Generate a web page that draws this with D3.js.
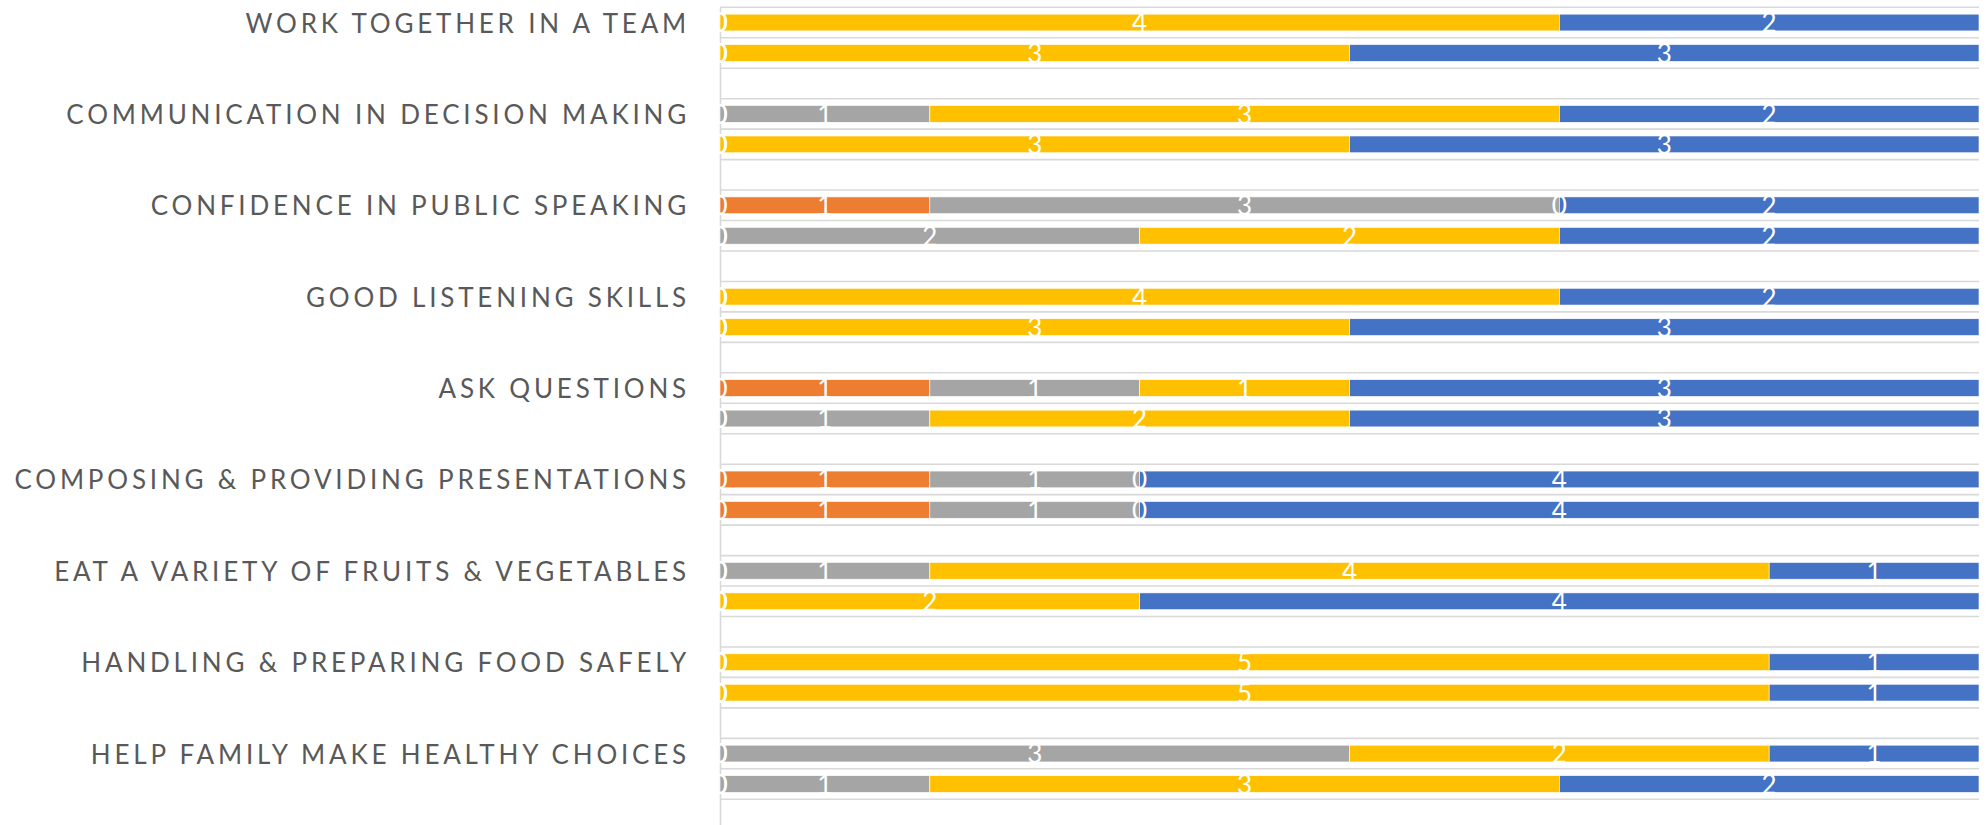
<!DOCTYPE html>
<html>
<head>
<meta charset="utf-8">
<script src="https://cdn.jsdelivr.net/npm/d3@7"></script>
<style>
  body { margin: 0; background: #fff; }
  svg { display: block; }
</style>
</head>
<body>
<svg id="chart" width="1988" height="825"></svg>
<script>
// categories, top to bottom (each one has two bars)
var categories = [
  "WORK TOGETHER IN A TEAM",
  "COMMUNICATION IN DECISION MAKING",
  "CONFIDENCE IN PUBLIC SPEAKING",
  "GOOD LISTENING SKILLS",
  "ASK QUESTIONS",
  "COMPOSING & PROVIDING PRESENTATIONS",
  "EAT A VARIETY OF FRUITS & VEGETABLES",
  "HANDLING & PREPARING FOOD SAFELY",
  "HELP FAMILY MAKE HEALTHY CHOICES"
];

// series values, two bars per category (first bar, second bar)
var none     = [0,0, 0,0, 0,0, 0,0, 0,0, 0,0, 0,0, 0,0, 0,0];
var low      = [0,0, 0,0, 1,0, 0,0, 1,0, 1,1, 0,0, 0,0, 0,0];
var some     = [0,0, 1,0, 3,2, 0,0, 1,1, 1,1, 1,0, 0,0, 3,1];
var good     = [4,3, 3,3, 0,2, 4,3, 1,2, 0,0, 4,2, 5,5, 2,3];
var great    = [2,3, 2,3, 2,2, 2,3, 3,3, 4,4, 1,4, 1,1, 1,2];

var seriesKeys = ["none", "low", "some", "good", "great"];
var seriesColors = ["#4472C4", "#ED7D31", "#A5A5A5", "#FFC000", "#4472C4"];
var xMax = 6;

// build rows: 3 per category (bar, bar, empty gap)
var rows = [];
categories.forEach(function(c, i) {
  [0, 1].forEach(function(j) {
    var k = i * 2 + j;
    rows.push({ id: c + "|" + j, cat: c, first: j == 0,
      none: none[k], low: low[k], some: some[k], good: good[k], great: great[k] });
  });
  rows.push({ id: c + "|gap", gap: true });
});
var barRows = rows.filter(function(r) { return !r.gap; });

var svg = d3.select("#chart");
var yTop = 7.3, step = 30.46;

var x = d3.scaleLinear().domain([0, xMax]).range([720, 1979]);
var y = d3.scaleBand()
  .domain(rows.map(function(r) { return r.id; }))
  .range([yTop, yTop + rows.length * step])
  .paddingInner(0.45).paddingOuter(0.225);

var half = y.step() * y.paddingInner() / 2;

// horizontal gridlines at every row boundary
var lines = rows.map(function(r) { return y(r.id) - half; });
lines.push(y(rows[rows.length - 1].id) + y.bandwidth() + half);

svg.append("g").selectAll("line")
  .data(lines)
  .enter().append("line")
    .attr("x1", x(0)).attr("x2", x(xMax))
    .attr("y1", function(d) { return d; })
    .attr("y2", function(d) { return d; })
    .attr("stroke", "#d9d9d9")
    .attr("stroke-width", 1.6);

// category axis line
var axis = svg.append("g")
  .attr("transform", "translate(" + x(0) + ",0)")
  .call(d3.axisLeft(y).tickSize(0).tickFormat("").tickSizeOuter(0));
axis.select(".domain").attr("stroke", "#d9d9d9").attr("stroke-width", 1.6);
axis.selectAll(".tick").remove();

var stack = d3.stack().keys(seriesKeys)(barRows);

var layers = svg.append("g").selectAll("g")
  .data(stack)
  .enter().append("g")
    .attr("fill", function(d, i) { return seriesColors[i]; });

layers.selectAll("rect")
  .data(function(d) { return d; })
  .enter().append("rect")
    .attr("x", function(d) { return x(d[0]); })
    .attr("width", function(d) { return x(d[1]) - x(d[0]); })
    .attr("y", function(d) { return y(d.data.id); })
    .attr("height", y.bandwidth())
    .attr("stroke", "#fff")
    .attr("stroke-width", 0.6);

// white value labels in the middle of every segment (zeros too)
stack.forEach(function(layer) {
  svg.append("g").selectAll("text")
    .data(layer)
    .enter().append("text")
      .attr("x", function(d) { return (x(d[0]) + x(d[1])) / 2; })
      .attr("y", function(d) { return y(d.data.id) + y.bandwidth() + 1.5; })
      .attr("text-anchor", "middle")
      .attr("fill", "#fff")
      .style("font-family", "Lato, 'Open Sans', sans-serif")
      .style("font-weight", 400)
      .style("font-size", "26px")
      .text(function(d) { return d[1] - d[0]; });
});

// category labels, level with the first bar of each pair
svg.append("g").selectAll("text")
  .data(barRows.filter(function(r) { return r.first; }))
  .enter().append("text")
    .attr("x", 690)
    .attr("y", function(d) { return y(d.id) + y.bandwidth() / 2; })
    .attr("text-anchor", "end")
    .attr("dominant-baseline", "central")
    .attr("fill", "#595959")
    .style("font-family", "Lato, 'Open Sans', sans-serif")
    .style("font-size", "26px")
    .style("letter-spacing", "3.8px")
    .text(function(d) { return d.cat; });
</script>
</body>
</html>
